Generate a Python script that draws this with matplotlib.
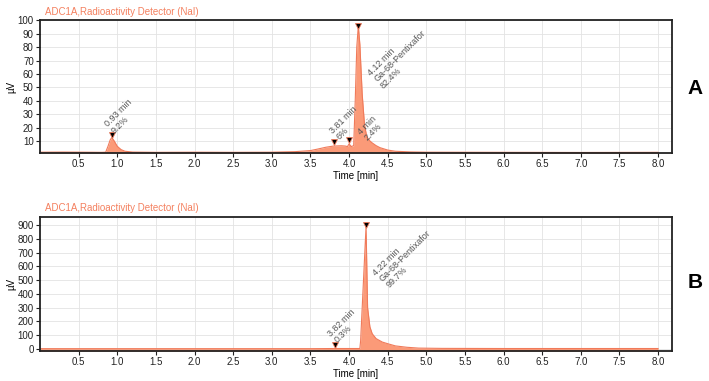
import numpy as np
import matplotlib.pyplot as plt

plt.rcParams['font.family'] = ['Liberation Sans', 'DejaVu Sans']

# chromatogram A (time in min, signal in µV)
tA = [0.0, 0.3, 0.6, 0.8, 0.85, 0.88, 0.91, 0.93, 0.96, 1.0, 1.05, 1.1, 1.2, 1.5,
      2.0, 2.5, 3.0, 3.3, 3.5, 3.6, 3.7, 3.8, 3.9, 3.95, 3.98, 4.0, 4.03, 4.06,
      4.08, 4.1, 4.12, 4.14, 4.17, 4.2, 4.23, 4.27, 4.3, 4.35, 4.4, 4.5, 4.6,
      4.8, 5.0, 6.0, 7.0, 8.0]
yA = [1.6, 1.7, 1.6, 1.5, 1.6, 6.0, 11.0, 12.5, 10.0, 6.0, 3.5, 2.3, 1.7, 1.5,
      1.6, 1.5, 1.6, 2.0, 2.8, 4.0, 5.3, 6.2, 6.4, 6.2, 5.8, 7.8, 5.8, 6.5,
      40.0, 80.0, 96.0, 82.0, 45.0, 22.0, 13.0, 10.0, 8.5, 6.5, 5.0, 3.2, 2.3,
      1.8, 1.6, 1.5, 1.4, 1.5]

# chromatogram B
tB = [0.0, 1.0, 2.0, 3.0, 3.5, 3.82, 4.0, 4.14, 4.15, 4.22, 4.24, 4.27, 4.3,
      4.35, 4.43, 4.5, 4.6, 4.75, 4.9, 5.2, 6.0, 7.0, 8.0]
yB = [2, 2, 2, 2, 2, 3, 3, 3, 60, 890, 300, 160, 110, 75, 50, 38, 22, 12,
      6, 4, 3, 3, 3]

# peak markers and labels (label position = start of the last text line)
pkA_t = [0.93, 3.81, 4.0, 4.12]
pkA_y = [14.5, 9.5, 10.5, 96.0]
labA = ['0.93 min\n9.2%', '3.81 min\n6%', '4 min\n2.4%',
        '4.12 min\nGa-68-Pentixafor\n82.4%']
labA_xy = [(0.96, 15.5), (3.88, 10.5), (4.24, 10.0), (4.45, 49.0)]

pkB_t = [3.82, 4.22]
pkB_y = [30, 900]
labB = ['3.82 min\n0.3%', '4.22 min\nGa-68-Pentixafor\n99.7%']
labB_xy = [(3.85, 40), (4.52, 440)]

fill_c = '#fb9a78'
line_c = '#f07a5a'
title_c = '#f4805f'

fig = plt.figure(figsize=(7.09, 3.81), dpi=100)
axA = fig.add_axes([40 / 709, 1 - 153 / 381, 632 / 709, 133 / 381])
axB = fig.add_axes([40 / 709, 1 - 351 / 381, 632 / 709, 134 / 381])


def draw(ax, t, y, pk_t, pk_y, labs, lab_xy, ylim, yticks, base):
    ax.fill_between(t, base, y, color=fill_c, lw=0)
    ax.plot(t, y, color=line_c, lw=0.8)
    ax.plot(pk_t, pk_y, 'v', color='black', mec=line_c, mew=0.6, ms=5)
    for s, (x, yy) in zip(labs, lab_xy):
        ax.text(x, yy, s, rotation=45, rotation_mode='anchor', ha='left',
                va='baseline', fontsize=6.5, color='#555555', linespacing=1.0)
    ax.set_xlim(0, 8.18)
    ax.set_ylim(*ylim)
    ax.set_xticks(np.arange(0.5, 8.01, 0.5))
    ax.set_xticklabels(['%.1f' % v for v in np.arange(0.5, 8.01, 0.5)])
    ax.set_yticks(yticks)
    ax.grid(color='#e3e3e3', lw=0.6)
    ax.set_axisbelow(True)
    ax.tick_params(labelsize=7, length=3, width=0.8, pad=1.5, colors='#222222')
    for sp in ax.spines.values():
        sp.set_linewidth(1.3)
        sp.set_color('#222222')
    ax.set_xlabel('Time [min]', fontsize=7, labelpad=1)
    ax.set_ylabel('µV', fontsize=7, labelpad=1)


draw(axA, tA, yA, pkA_t, pkA_y, labA, labA_xy, (1, 100.3),
     np.arange(10, 101, 10), 1)
draw(axB, tB, yB, pkB_t, pkB_y, labB, labB_xy, (-15, 958),
     np.arange(0, 901, 100), -15)

fig.text(45 / 709, 1 - 12 / 381, 'ADC1A,Radioactivity Detector (NaI)',
         color=title_c, fontsize=7, va='center')
fig.text(45 / 709, 1 - 208 / 381, 'ADC1A,Radioactivity Detector (NaI)',
         color=title_c, fontsize=7, va='center')
fig.text(695 / 709, 1 - 88 / 381, 'A', fontsize=15, fontweight='bold',
         ha='center', va='center')
fig.text(695 / 709, 1 - 283 / 381, 'B', fontsize=15, fontweight='bold',
         ha='center', va='center')

fig.savefig('out.png', dpi=100)
